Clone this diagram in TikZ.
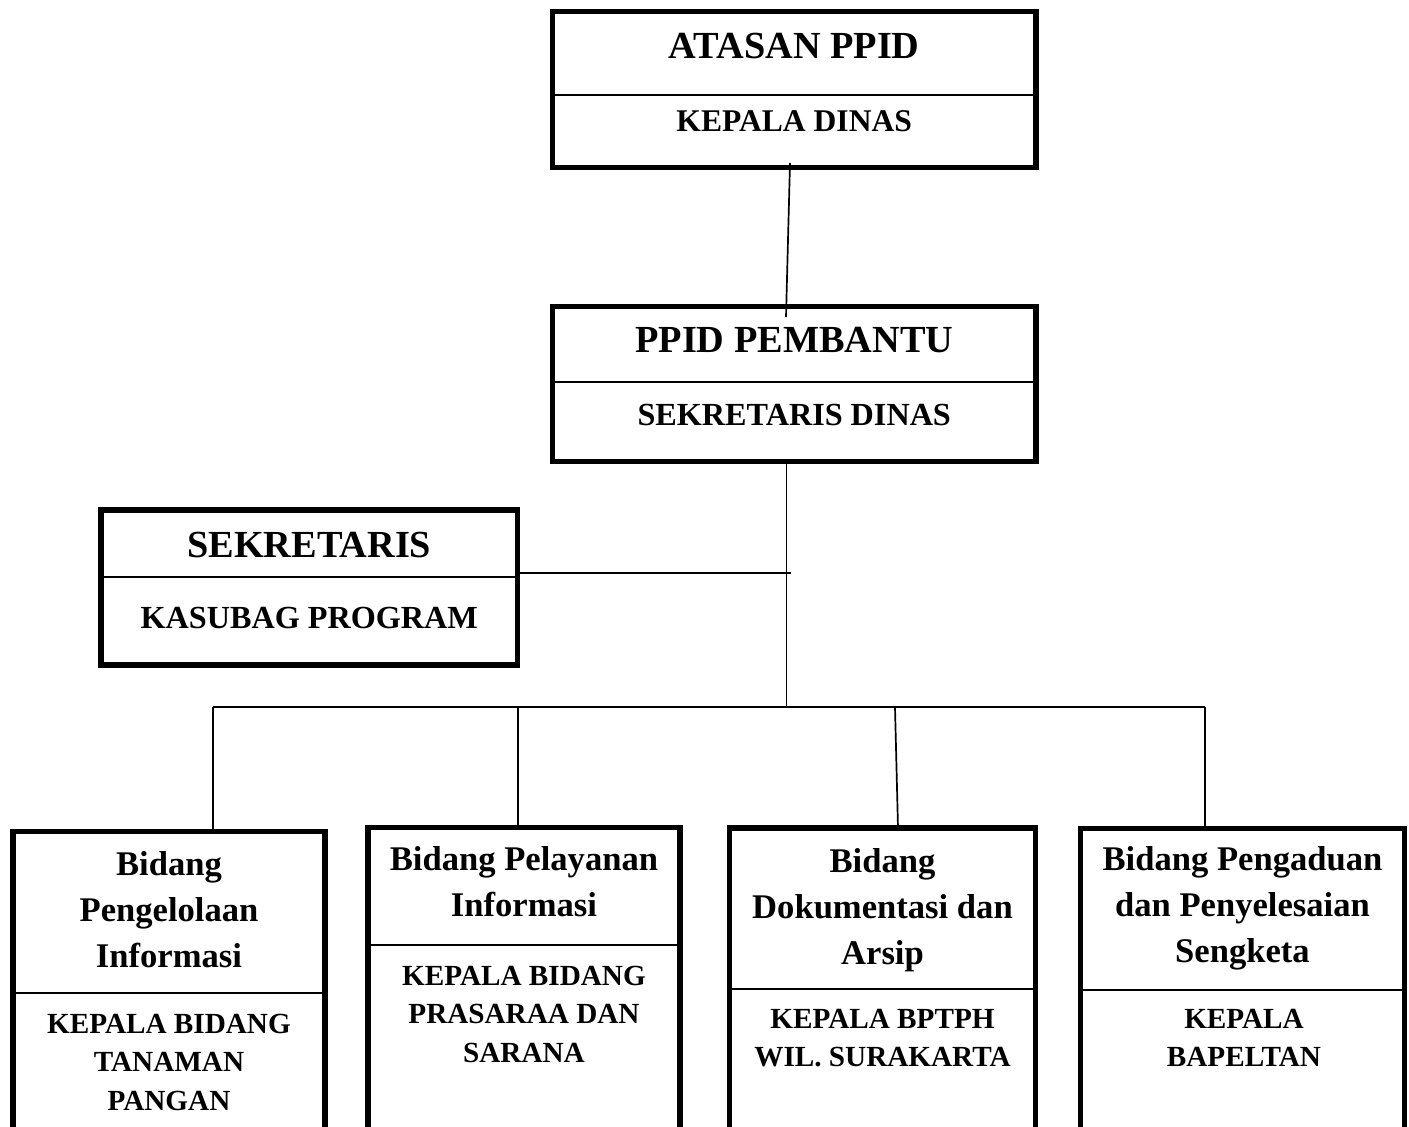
\documentclass[tikz,border=0pt]{standalone}
\usepackage{fontspec}
\setmainfont{Liberation Serif}
\tikzset{
 box/.style={draw, line width=5.5pt, inner sep=0pt, outer sep=0pt},
 link/.style={line width=1.7pt},
 sepline/.style={line width=1.8pt},
 big/.style={font=\fontsize{38.3}{44}\selectfont\bfseries, anchor=base, inner sep=0pt},
 sub/.style={font=\fontsize{32.2}{38}\selectfont\bfseries, anchor=base, inner sep=0pt},
 head/.style={font=\fontsize{34.6}{46}\selectfont\bfseries, align=center, anchor=north, inner sep=0pt},
 low/.style={font=\fontsize{29.2}{38.5}\selectfont\bfseries, align=center, anchor=north, inner sep=0pt},
}
\newcommand{\fl}{\rule{0pt}{30pt}}
\begin{document}
\begin{tikzpicture}[x=1pt,y=-1pt]
\useasboundingbox (0,0) rectangle (1409,1127);
\fill[white] (0,0) rectangle (1409,1127);
\clip (0,0) rectangle (1409,1127);

% top boxes
\node[box, minimum width=483.5pt, minimum height=156pt] (atasan) at (794.25,89.5) {};
\draw[sepline] (atasan.west |- 0,95) -- (atasan.east |- 0,95);
\node[big] (tatasan) at (794.25,58.5) {ATASAN PPID};
\node[big, font=\fontsize{31.6}{36}\selectfont\bfseries] (tkadin) at (794.25,131.5) {KEPALA DINAS};

\node[box, minimum width=483.5pt, minimum height=155pt] (ppid) at (794.25,384) {};
\draw[sepline] (ppid.west |- 0,382) -- (ppid.east |- 0,382);
\node[big] (tppid) at (794.25,352.5) {PPID PEMBANTU};
\node[sub] (tsekdin) at (794.25,425) {SEKRETARIS DINAS};

\node[box, minimum width=416.5pt, minimum height=155pt] (sek) at (309.25,587.5) {};
\draw[sepline] (sek.west |- 0,577) -- (sek.east |- 0,577);
\node[big] (tsek) at (309.25,557) {SEKRETARIS};
\node[sub] (tkasubag) at (309.25,628) {KASUBAG PROGRAM};

% bottom boxes (cut by the lower edge)
\node[box, minimum width=312pt, minimum height=370pt] (b1) at (169,1016.5) {};
\node[box, minimum width=312pt, minimum height=370pt] (b2) at (524,1012.5) {};
\node[box, minimum width=306pt, minimum height=370pt] (b3) at (882.5,1013) {};
\node[box, minimum width=324pt, minimum height=370pt] (b4) at (1242.5,1013.5) {};
\draw[sepline] (b1.west |- 0,993) -- (b1.east |- 0,993);
\draw[sepline] (b2.west |- 0,945) -- (b2.east |- 0,945);
\draw[sepline] (b3.west |- 0,989) -- (b3.east |- 0,989);
\draw[sepline] (b4.west |- 0,990) -- (b4.east |- 0,990);

\node[head] (h1) at (169,845) {\fl Bidang\\Pengelolaan\\Informasi};
\node[head] (h2) at (524,840) {\fl Bidang Pelayanan\\Informasi};
\node[head] (h3) at (882.5,842) {\fl Bidang\\Dokumentasi dan\\Arsip};
\node[head] (h4) at (1242.5,840) {\fl Bidang Pengaduan\\dan Penyelesaian\\Sengketa};

\node[low] (l1) at (169,1003) {\fl KEPALA BIDANG\\TANAMAN\\PANGAN};
\node[low] (l2) at (524,955) {\fl KEPALA BIDANG\\PRASARAA DAN\\SARANA};
\node[low] (l3) at (882.5,998) {\fl KEPALA BPTPH\\WIL. SURAKARTA};
\node[low] (l4) at (1244,998) {\fl KEPALA\\BAPELTAN};

% connectors
\coordinate (c1) at (790,163);
\coordinate (c2) at (786,317);
\draw[link] (c1) -- (c2);

\coordinate (v1) at (786.5,707);
\draw[link] (ppid.south -| v1) -- (v1);

\coordinate (hh) at (791,573);
\draw[link] (sek.east |- hh) -- (hh);

\coordinate (j1) at (213,707);
\coordinate (j2) at (518,707);
\coordinate (j3) at (895,707);
\coordinate (j4) at (1205,707);
\coordinate (e3) at (898,828);
\draw[link] (j1) -- (j4);
\draw[link] (j1) -- (j1 |- b1.north);
\draw[link] (j2) -- (j2 |- b2.north);
\draw[link] (j3) -- (e3);
\draw[link] (j4) -- (j4 |- b4.north);
\end{tikzpicture}
\end{document}
